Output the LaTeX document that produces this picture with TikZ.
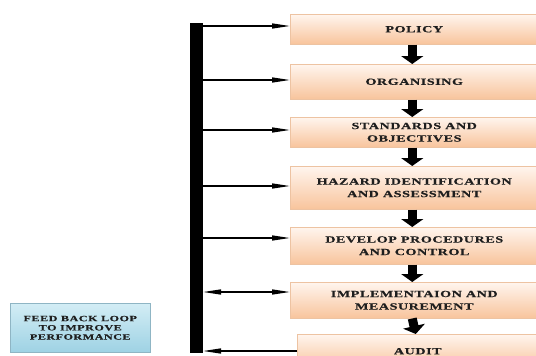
\documentclass[tikz,border=0pt]{standalone}
\usepackage{fontspec}
\setmainfont{Liberation Serif}
\newfontfamily\boxfont[FakeStretch=1.5,LetterSpace=6,FakeBold=0.6]{Liberation Serif Bold}
\usetikzlibrary{arrows.meta}
\definecolor{boxtop}{HTML}{FFF5EE}
\definecolor{boxbot}{HTML}{F8C49C}
\definecolor{boxedge}{HTML}{EDC3A2}
\definecolor{fbtop}{HTML}{D3EDF5}
\definecolor{fbbot}{HTML}{9ED2E4}
\definecolor{fbedge}{HTML}{8FB5C4}
\definecolor{txt}{HTML}{1E1E1E}
\tikzset{
  stagebox/.style={draw=boxedge, line width=0.5pt, top color=boxtop, bottom color=boxbot,
    anchor=north west, minimum width=248pt, inner sep=0pt, align=center, text=txt,
    font=\boxfont\fontsize{9.4}{12.5}\selectfont},
  fbbox/.style={draw=fbedge, line width=0.5pt, top color=fbtop, bottom color=fbbot,
    anchor=north west, minimum width=140pt, minimum height=49pt, inner sep=0pt, align=center, text=txt,
    font=\boxfont\fontsize{8.1}{9.2}\selectfont},
  downarrow/.style={line width=9pt, -{Triangle[width=22pt,length=8pt]}},
  thinarrow/.style={line width=1.4pt, -{Triangle[width=5pt,length=18pt]}},
  thinboth/.style={line width=1.4pt, {Triangle[width=5pt,length=18pt]}-{Triangle[width=5pt,length=18pt]}}
}
\begin{document}
\begin{tikzpicture}[x=1pt,y=-1pt]
\clip (0,0) rectangle (536,356);
\fill[white] (0,0) rectangle (536,356);

% stage boxes
\node[stagebox, minimum height=30pt] (policy) at (290,14) {POLICY};
\node[stagebox, minimum height=35pt] (org) at (290,64) {ORGANISING};
\node[stagebox, minimum height=30pt] (std) at (290,117) {STANDARDS AND\\OBJECTIVES};
\node[stagebox, minimum height=43pt] (haz) at (290,166) {HAZARD IDENTIFICATION\\AND ASSESSMENT};
\node[stagebox, minimum height=37pt] (dev) at (290,227) {DEVELOP PROCEDURES\\AND CONTROL};
\node[stagebox, minimum height=36pt] (imp) at (290,282) {IMPLEMENTAION AND\\MEASUREMENT};
\node[stagebox, minimum height=34pt, minimum width=241pt] (audit) at (297,334) {AUDIT};

% down arrows
\foreach \a/\b in {policy/org, org/std, std/haz, haz/dev, dev/imp, imp/audit}
  \draw[downarrow] ([xshift=-2pt]\a.south) -- ([xshift=-2pt]\b.north |- \b.north);

% feedback bar
\node[fill=black, minimum width=13pt, minimum height=330pt, inner sep=0pt, anchor=north west] (bar) at (190,23) {};

\coordinate (b1) at (203,26);
\coordinate (b2) at (203,80);
\coordinate (b3) at (203,130);
\coordinate (b4) at (203,186);
\coordinate (b5) at (203,238);
\coordinate (b6) at (203,292);
\coordinate (b7) at (203,351);

\draw[thinarrow] (b1) -- (b1 -| policy.west);
\draw[thinarrow] (b2) -- (b2 -| org.west);
\draw[thinarrow] (b3) -- (b3 -| std.west);
\draw[thinarrow] (b4) -- (b4 -| haz.west);
\draw[thinarrow] (b5) -- (b5 -| dev.west);
\draw[thinboth] (b6) -- (b6 -| imp.west);
\draw[thinarrow] (b7 -| audit.west) -- (b7);

% feedback box
\node[fbbox] (fb) at (10,303) {FEED BACK LOOP\\TO IMPROVE\\PERFORMANCE};
\end{tikzpicture}
\end{document}
